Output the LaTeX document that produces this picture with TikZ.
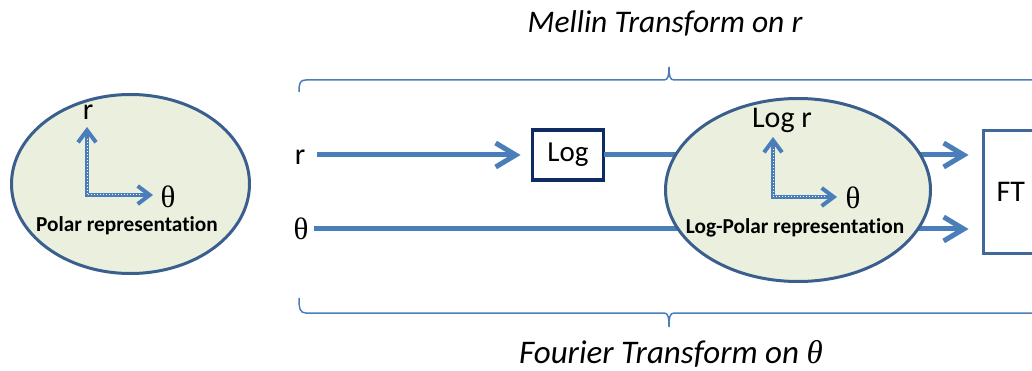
\documentclass[tikz,border=0pt]{standalone}
\usepackage{fontspec}
\setmainfont{Carlito}
\newfontfamily\grk{Liberation Serif}
\usetikzlibrary{arrows.meta,shapes.geometric}
\definecolor{arrowblue}{HTML}{4A7EBB}
\definecolor{ellfill}{HTML}{EBF0DE}
\definecolor{elldraw}{HTML}{3A5F8E}
\definecolor{navybox}{HTML}{0E2C63}
\definecolor{ftdraw}{HTML}{41689A}
\begin{document}
\begin{tikzpicture}[x=1pt,y=-1pt,
  flow/.style={arrowblue, line width=5pt, -{Straight Barb[length=20pt,width=24pt]}},
  axis/.style={arrowblue, line width=4pt, {Straight Barb[length=12pt,width=18pt]}-{Straight Barb[length=12pt,width=18pt]}},
  axisdots/.style={white, line width=1pt, dotted},
  ell/.style={ellipse, draw=elldraw, fill=ellfill, line width=3pt, inner sep=0pt, outer sep=0pt},
  big/.style={font=\fontsize{30}{34}\selectfont, inner sep=0pt, outer sep=0pt},
  grklab/.style={font=\grk\fontsize{31}{34}\selectfont, inner sep=0pt, outer sep=0pt},
  reptext/.style={font=\bfseries\fontsize{21.3}{24}\selectfont\addfontfeature{Ligatures=NoCommon}, inner sep=0pt},
  caption/.style={font=\itshape\fontsize{31.5}{36}\selectfont, inner sep=0pt, anchor=base},
  brace/.style={arrowblue, line width=1.5pt},
  logbox/.style={draw=navybox, line width=3.5pt, minimum width=71pt, minimum height=50pt, inner sep=0pt, outer sep=0pt, font=\fontsize{29}{34}\selectfont},
  ftbox/.style={draw=ftdraw, line width=3pt, minimum height=123pt, text width=70pt, inner xsep=13pt, align=left, outer sep=0pt, font=\fontsize{30}{34}\selectfont}
]
\clip (0,0) rectangle (1032,371);
\fill[white] (0,0) rectangle (1032,371);

% captions
\node[caption] (mellin) at (665,33) {Mellin Transform on r};
\node[caption, font=\itshape\fontsize{33}{38}\selectfont] (fourier) at (671,363) {Fourier Transform on {\grk\itshape θ}};

% braces
\draw[brace] (299,92) .. controls (299,83) and (300,80) .. (306,80) -- (664,80)
  .. controls (668,80) and (669,76) .. (669,67) .. controls (669,76) and (670,80) .. (674,80) -- (1040,80);
\draw[brace] (299,298) .. controls (299,309) and (300,313) .. (306,313) -- (664,313)
  .. controls (668,313) and (669,317) .. (669,327) .. controls (669,317) and (670,313) .. (674,313) -- (1040,313);

% input labels and boxes
\node[big] (rlab) at (300,157) {r};
\node[grklab] (thlab) at (301,229) {θ};
\node[logbox] (log) at (568,155) {Log};
\node[ftbox, anchor=west] (ft) at (983.5,192) {FT};

% flows (drawn beneath the log-polar ellipse)
\draw[flow, shorten <=12pt, shorten >=12pt] (rlab.east |- log.west) -- (log.west);
\draw[flow, shorten >=15pt] (log.east) -- (log.east -| ft.west);
\draw[flow, shorten <=6pt, shorten >=15pt] (thlab.east) -- (thlab.east -| ft.west);

% polar representation
\node[ell, minimum width=238pt, minimum height=179pt] (pol) at (130.5,184) {};
\coordinate (pc) at (87,195);
\coordinate (pv) at (87,127);
\coordinate (ph) at (153,195);
\draw[axis] (pv) -- (pc) -- (ph);
\draw[axisdots] ([yshift=-12pt]pv) -- (pc) -- ([xshift=-12pt]ph);
\node[big] (pr) at (88,112) {r};
\node[grklab] (pth) at (168,197) {θ};
\node[reptext] (ptext) at (127,226) {Polar representation};

% log-polar representation
\node[ell, minimum width=265pt, minimum height=183pt] (lpol) at (798,190) {};
\coordinate (lc) at (773,197);
\coordinate (lv) at (773,137);
\coordinate (lh) at (837,197);
\draw[axis] (lv) -- (lc) -- (lh);
\draw[axisdots] ([yshift=-12pt]lv) -- (lc) -- ([xshift=-12pt]lh);
\node[big] (lr) at (782,120) {Log r};
\node[grklab] (lth) at (853,198) {θ};
\node[reptext] (ltext) at (795,228) {Log-Polar representation};
\end{tikzpicture}
\end{document}
